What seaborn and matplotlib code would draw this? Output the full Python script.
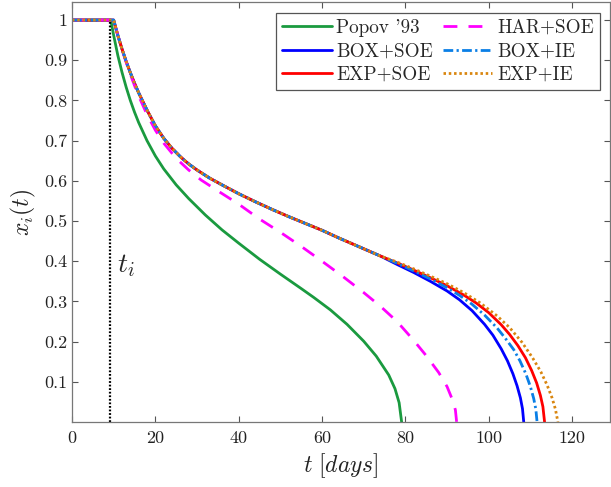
import numpy as np
import pandas as pd
import matplotlib
matplotlib.use("Agg")
import matplotlib.pyplot as plt
import seaborn as sns

# ---- data -------------------------------------------------------------
t_onset = 9.0

# shared early part of the four BOX/EXP curves
bundle_t = [0, 10, 11, 12, 13, 14, 15, 16, 18, 20, 22, 24, 26, 28, 30, 33, 36,
            40, 44, 48, 52, 56, 60, 64, 68, 72, 74]
bundle_x = [1.0, 1.0, 0.962, 0.928, 0.897, 0.869, 0.843, 0.819, 0.776, 0.737,
            0.706, 0.681, 0.660, 0.642, 0.627, 0.607, 0.590, 0.568, 0.548,
            0.529, 0.511, 0.494, 0.477, 0.458, 0.440, 0.422, 0.413]

box_soe_t = [78, 82, 86, 90, 93, 96, 99, 101, 103, 104.5, 105.8, 106.8, 107.6,
             108.1, 108.4]
box_soe_x = [0.392, 0.372, 0.350, 0.326, 0.304, 0.277, 0.243, 0.216, 0.182,
             0.152, 0.120, 0.090, 0.060, 0.033, 0.0]

box_ie_t = [78, 82, 86, 90, 93, 96, 99, 102, 104, 106, 107.5, 108.9, 110,
            110.8, 111.3, 111.6]
box_ie_x = [0.395, 0.376, 0.356, 0.334, 0.315, 0.293, 0.266, 0.234, 0.208,
            0.180, 0.152, 0.120, 0.088, 0.058, 0.032, 0.0]

exp_soe_t = [78, 82, 86, 90, 94, 97, 100, 103, 105, 107, 108.8, 110.3, 111.5,
             112.4, 113, 113.4]
exp_soe_x = [0.396, 0.378, 0.359, 0.339, 0.316, 0.296, 0.272, 0.242, 0.218,
             0.190, 0.160, 0.128, 0.097, 0.066, 0.038, 0.0]

exp_ie_t = [78, 82, 86, 90, 94, 98, 102, 105, 108, 110.5, 112.5, 114, 115.2,
            116, 116.6]
exp_ie_x = [0.398, 0.381, 0.363, 0.344, 0.322, 0.296, 0.264, 0.235, 0.198,
            0.160, 0.125, 0.092, 0.060, 0.032, 0.0]

har_soe_t = [0, 10, 11, 12, 13, 14, 15, 16, 18, 20, 22, 25, 28, 31, 35, 40, 45,
             50, 55, 60, 65, 70, 74, 78, 82, 85, 88, 90, 91.3, 92, 92.3]
har_soe_x = [1.0, 1.0, 0.962, 0.927, 0.895, 0.865, 0.837, 0.811, 0.765, 0.726,
             0.694, 0.656, 0.627, 0.602, 0.575, 0.542, 0.505, 0.472, 0.437,
             0.400, 0.362, 0.322, 0.288, 0.250, 0.203, 0.165, 0.123, 0.088,
             0.055, 0.030, 0.0]

popov_t = [0, 9.3, 10, 11, 12, 13, 14, 15, 16, 18, 20, 22, 25, 28, 32, 36, 40,
           45, 50, 55, 58, 62, 66, 70, 73, 76, 77.5, 78.5, 79.1]
popov_x = [1.0, 1.0, 0.962, 0.912, 0.870, 0.833, 0.800, 0.771, 0.745, 0.700,
           0.662, 0.630, 0.590, 0.556, 0.515, 0.478, 0.445, 0.405, 0.368,
           0.332, 0.310, 0.279, 0.243, 0.201, 0.164, 0.117, 0.083, 0.048, 0.0]

series_names = ["Popov '93", "BOX+SOE", "EXP+SOE", "HAR+SOE", "BOX+IE", "EXP+IE"]

x_ticks = [0, 20, 40, 60, 80, 100, 120]
x_tick_labels = ["0", "20", "40", "60", "80", "100", "120"]
y_ticks = [0.1, 0.2, 0.3, 0.4, 0.5, 0.6, 0.7, 0.8, 0.9, 1.0]
y_tick_labels = ["0.1", "0.2", "0.3", "0.4", "0.5", "0.6", "0.7", "0.8", "0.9", "1"]

# ---- assemble series ---------------------------------------------------
curves = {
    "Popov '93": (popov_t, popov_x),
    "BOX+SOE": (bundle_t + box_soe_t, bundle_x + box_soe_x),
    "EXP+SOE": (bundle_t + exp_soe_t, bundle_x + exp_soe_x),
    "HAR+SOE": (har_soe_t, har_soe_x),
    "BOX+IE": (bundle_t + box_ie_t, bundle_x + box_ie_x),
    "EXP+IE": (bundle_t + exp_ie_t, bundle_x + exp_ie_x),
}

styles = {
    "Popov '93": dict(color="#1a9a3f", linestyle="-"),
    "BOX+SOE": dict(color="#0000ff", linestyle="-"),
    "EXP+SOE": dict(color="#ff0000", linestyle="-"),
    "HAR+SOE": dict(color="#ff00ff", linestyle=(0, (5, 4))),
    "BOX+IE": dict(color="#0a7fe6", linestyle=(0, (3.5, 1.2, 0.8, 1.2))),
    "EXP+IE": dict(color="#d9860f", linestyle=(0, (0.9, 1.0))),
}

# ---- styling -----------------------------------------------------------
sns.set_theme(style="ticks")
plt.rcParams.update({
    "font.family": "serif",
    "font.serif": ["cmr10", "DejaVu Serif"],
    "mathtext.fontset": "cm",
    "axes.unicode_minus": False,
    "axes.formatter.use_mathtext": True,
})

fig = plt.figure(figsize=(6.11, 4.87), dpi=100)
ax = fig.add_axes([72 / 611, 65 / 487, 538 / 611, 420 / 487])

for name in series_names:
    t, x = curves[name]
    df = pd.DataFrame({"t": t, "x": x})
    sns.lineplot(data=df, x="t", y="x", ax=ax, estimator=None, sort=False,
                 lw=2.0, label=name, **styles[name])

# onset marker
ax.plot([t_onset, t_onset], [0, 1], color="black", linestyle=(0, (0.8, 0.8)), lw=1.6)
ax.text(t_onset + 1.8, 0.39, r"$t_i$", fontsize=20, ha="left", va="center")

ax.set_xlim(0, 129.1)
ax.set_ylim(0, 1.045)
ax.set_xticks(x_ticks)
ax.set_xticklabels(x_tick_labels)
ax.set_yticks(y_ticks)
ax.set_yticklabels(y_tick_labels)
ax.tick_params(direction="in", length=4, width=0.8, colors="#555555",
               labelcolor="#222222", labelsize=13, top=True, right=True)
ax.tick_params(axis="x", pad=6)
for s in ax.spines.values():
    s.set_color("#777777")
    s.set_linewidth(0.9)

ax.set_xlabel(r"$t\ [days]$", fontsize=17, color="#222222", labelpad=4)
ax.set_ylabel(r"$x_i(t)$", fontsize=17, color="#222222", labelpad=4)

leg = ax.legend(loc="upper right", ncol=2, fontsize=13.8, frameon=True,
                fancybox=False, edgecolor="#555555", framealpha=1,
                handlelength=2.6, handletextpad=0.25, columnspacing=0.5,
                labelspacing=0.3, borderpad=0.3, borderaxespad=0,
                bbox_to_anchor=(0.981, 0.974))
leg.get_frame().set_linewidth(0.9)

fig.savefig("out.png", dpi=100)
